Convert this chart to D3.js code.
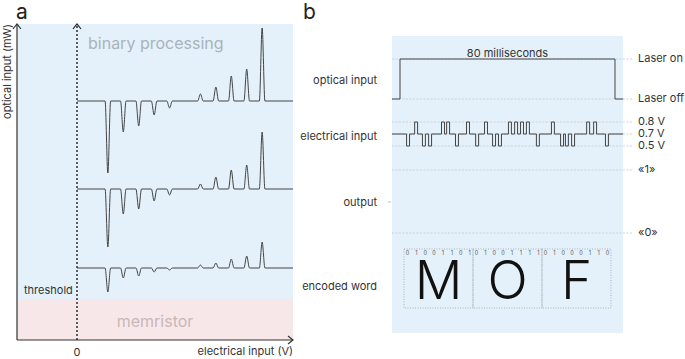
<!DOCTYPE html>
<html>
<head>
<meta charset="utf-8">
<script src="https://cdn.jsdelivr.net/npm/d3@7"></script>
<style>
body { margin: 0; background: #fff; }
svg { display: block; font-family: Inter, "Noto Sans", sans-serif; }
</style>
</head>
<body>
<svg id="chart" width="685" height="359"></svg>
<script>
// panel a: spike positions on the electrical axis and their heights per trace
const spikeVolts = [2, 3, 4, 5, 6, 8, 9, 10, 11, 12];
const traceBaselines = [239, 151, 72];
const traceAmps = [
    [-72, -31, -25, -14, -7, 7, 14, 25, 32, 73],
    [-58, -25, -20, -12, -6, 5, 12, 19, 24, 57],
    [-24, -10, -8, -4, -2, 3, 5, 9, 12, 26]
];
const thresholdLevel = 41;

// panel b
const rowLabels = ["optical input", "electrical input", "output", "encoded word"];
const opticalLevels = ["Laser on", "Laser off"];
const electricalLevels = ["0.8 V", "0.7 V", "0.5 V"];
const outputLevels = ["«1»", "«0»"];
const laserWindow = [0, 80];
const letters = ["M", "O", "F"];
const letterBits = ["01001101", "01001111", "01000110"];
const pulseTimes = [3.0, 6.0, 8.9, 11.2, 16.0, 17.9, 21.2, 25.3, 28.7, 32.0, 35.0, 37.2,
    40.9, 43.2, 45.4, 47.6, 51.3, 56.9, 60.3, 62.1, 64.4, 70.0, 72.6, 77.0];

const svg = d3.select("#chart");
const ink = "#333";

// ---------- panel a ----------
const xA = d3.scaleLinear().domain([0, 14]).range([77, 293]);
const yA = d3.scaleLinear().domain([0, 316]).range([340, 24]);
const gA = svg.append("g");

gA.append("rect")
    .attr("x", 17).attr("y", yA(316))
    .attr("width", xA(14) - 17).attr("height", yA(thresholdLevel) - yA(316))
    .attr("fill", "#e4f1fa");
gA.append("rect")
    .attr("x", 17).attr("y", yA(thresholdLevel))
    .attr("width", xA(14) - 17).attr("height", yA(0) - yA(thresholdLevel))
    .attr("fill", "#f8e7e9");

gA.append("text").attr("x", 88).attr("y", 49)
    .attr("font-size", 16).attr("fill", "#a9b3bb").text("binary processing");
gA.append("text").attr("x", 155).attr("y", 327).attr("text-anchor", "middle")
    .attr("font-size", 16).attr("fill", "#c9b6b9").text("memristor");

const hw = 0.18;
const traceLine = d3.line()
    .x(d => xA(d[0]))
    .y(d => yA(d[1]))
    .curve(d3.curveMonotoneX);

traceBaselines.forEach((base, i) => {
    const pts = [[0, base]];
    spikeVolts.forEach((v, j) => {
        pts.push([v - hw, base], [v, base + traceAmps[i][j]], [v + hw, base]);
    });
    pts.push([14, base]);
    gA.append("path")
        .attr("d", traceLine(pts))
        .attr("fill", "none")
        .attr("stroke", "#444")
        .attr("stroke-width", 1);
});

// axes with chevron heads
const chevUp = (x, y) => `M${x - 4},${y + 5}L${x},${y}L${x + 4},${y + 5}`;
gA.append("line").attr("x1", 17).attr("x2", 17).attr("y1", yA(0)).attr("y2", yA(316))
    .attr("stroke", ink).attr("stroke-width", 1.2);
gA.append("path").attr("d", chevUp(17, yA(316))).attr("fill", "none").attr("stroke", ink).attr("stroke-width", 1.2);
gA.append("line").attr("x1", 17).attr("x2", xA(14)).attr("y1", yA(0)).attr("y2", yA(0))
    .attr("stroke", ink).attr("stroke-width", 1.2);
gA.append("path")
    .attr("d", `M${xA(14) - 5},${yA(0) - 4}L${xA(14)},${yA(0)}L${xA(14) - 5},${yA(0) + 4}`)
    .attr("fill", "none").attr("stroke", ink).attr("stroke-width", 1.2);
gA.append("line").attr("x1", xA(0)).attr("x2", xA(0)).attr("y1", yA(0)).attr("y2", yA(316))
    .attr("stroke", "#222").attr("stroke-width", 1.4).attr("stroke-dasharray", "2,2");
gA.append("path").attr("d", chevUp(xA(0), yA(316))).attr("fill", "none").attr("stroke", "#222").attr("stroke-width", 1.2);

gA.append("text").attr("transform", `translate(11,${yA(316)}) rotate(-90)`)
    .attr("text-anchor", "end").attr("font-size", 11).attr("fill", ink).text("optical input (mW)");
gA.append("text").attr("x", 24).attr("y", yA(thresholdLevel) - 5)
    .attr("font-size", 11).attr("fill", ink).text("threshold");
gA.append("text").attr("x", xA(0)).attr("y", 356).attr("text-anchor", "middle")
    .attr("font-size", 11).attr("fill", ink).text("0");
gA.append("text").attr("x", xA(14)).attr("y", 355).attr("text-anchor", "end")
    .attr("font-size", 11).attr("fill", ink).text("electrical input (V)");

svg.append("text").attr("x", 16).attr("y", 19).attr("font-size", 21).attr("fill", "#222").text("a");
svg.append("text").attr("x", 303).attr("y", 19).attr("font-size", 21).attr("fill", "#222").text("b");

// ---------- panel b ----------
const xB = d3.scaleLinear().domain([0, 80]).range([400, 615]);
const tMin = -3, tMax = 83;
const yOpt = d3.scalePoint().domain(opticalLevels).range([59, 99]);
const yEl = d3.scalePoint().domain(electricalLevels).range([122, 146]);
const yOut = d3.scalePoint().domain(outputLevels).range([170, 233]);
const rowY = d3.scaleOrdinal().domain(rowLabels).range([80, 136, 202, 286]);
const gB = svg.append("g");

gB.append("rect")
    .attr("x", xB(tMin)).attr("y", 36)
    .attr("width", xB(tMax) - xB(tMin)).attr("height", 297)
    .attr("fill", "#e4f1fa");

gB.selectAll("text.row")
    .data(rowLabels)
    .join("text")
    .attr("class", "row")
    .attr("x", 377)
    .attr("y", d => rowY(d))
    .attr("dy", "0.35em")
    .attr("text-anchor", "end")
    .attr("font-size", 11)
    .attr("fill", ink)
    .text(d => d);
gB.append("line").attr("x1", 388).attr("x2", 391).attr("y1", rowY("output")).attr("y2", rowY("output"))
    .attr("stroke", "#bbb");

const guides = [
    ...opticalLevels.map(d => ({label: d, y: yOpt(d)})),
    ...electricalLevels.map(d => ({label: d, y: yEl(d)})),
    ...outputLevels.map(d => ({label: d, y: yOut(d)}))
];
gB.selectAll("line.guide")
    .data(guides)
    .join("line")
    .attr("class", "guide")
    .attr("x1", xB(tMin)).attr("x2", xB(tMax) + 10)
    .attr("y1", d => d.y).attr("y2", d => d.y)
    .attr("stroke", "#c3cad0")
    .attr("stroke-width", 0.8)
    .attr("stroke-dasharray", "2,1.5");
gB.selectAll("text.level")
    .data(guides)
    .join("text")
    .attr("class", "level")
    .attr("x", 638)
    .attr("y", d => d.y - 1)
    .attr("dy", "0.35em")
    .attr("font-size", 11)
    .attr("fill", ink)
    .text(d => d.label);

const stepLine = d3.line().x(d => xB(d[0])).y(d => d[1]);

const opt = [
    [tMin, yOpt("Laser off")], [laserWindow[0], yOpt("Laser off")],
    [laserWindow[0], yOpt("Laser on")], [laserWindow[1], yOpt("Laser on")],
    [laserWindow[1], yOpt("Laser off")], [tMax, yOpt("Laser off")]
];
gB.append("path").attr("d", stepLine(opt))
    .attr("fill", "none").attr("stroke", "#444").attr("stroke-width", 1);
gB.append("text").attr("x", xB(40)).attr("y", 57).attr("text-anchor", "middle")
    .attr("font-size", 11).attr("fill", ink).text("80 milliseconds");

const bits = letterBits.join("").split("");
const pw = 1.1;
const base = yEl("0.7 V");
const el = [[tMin, base]];
pulseTimes.forEach((t, i) => {
    const lv = yEl(bits[i] === "1" ? "0.8 V" : "0.5 V");
    el.push([t - pw / 2, base], [t - pw / 2, lv], [t + pw / 2, lv], [t + pw / 2, base]);
});
el.push([tMax, base]);
gB.append("path").attr("d", stepLine(el))
    .attr("fill", "none").attr("stroke", "#444").attr("stroke-width", 1);

// encoded word
const xW = d3.scaleBand().domain(letters).range([xB(1.5), xB(78.5)]);
const boxTop = 249, boxBottom = 308;
const cells = gB.selectAll("g.cell")
    .data(letters)
    .join("g")
    .attr("class", "cell")
    .attr("transform", d => `translate(${xW(d)},0)`);
cells.append("rect")
    .attr("x", 0).attr("y", boxTop)
    .attr("width", xW.bandwidth()).attr("height", boxBottom - boxTop)
    .attr("fill", "none")
    .attr("stroke", "#9aa0a6")
    .attr("stroke-width", 0.8)
    .attr("stroke-dasharray", "1,1.5");
cells.append("text")
    .attr("x", xW.bandwidth() / 2)
    .attr("y", 299)
    .attr("text-anchor", "middle")
    .attr("font-size", 53)
    .attr("font-weight", 300)
    .attr("fill", "#111")
    .text(d => d);
const xBit = d3.scalePoint().domain(d3.range(8)).range([3.5, xW.bandwidth() - 3.5]);
cells.each(function (d, i) {
    d3.select(this).selectAll("text.bit")
        .data(letterBits[i].split(""))
        .join("text")
        .attr("class", "bit")
        .attr("x", (b, k) => xBit(k))
        .attr("y", 253.5)
        .attr("dy", "0.35em")
        .attr("text-anchor", "middle")
        .attr("font-size", 5.5)
        .attr("fill", "#555")
        .text(b => b);
});
</script>
</body>
</html>
